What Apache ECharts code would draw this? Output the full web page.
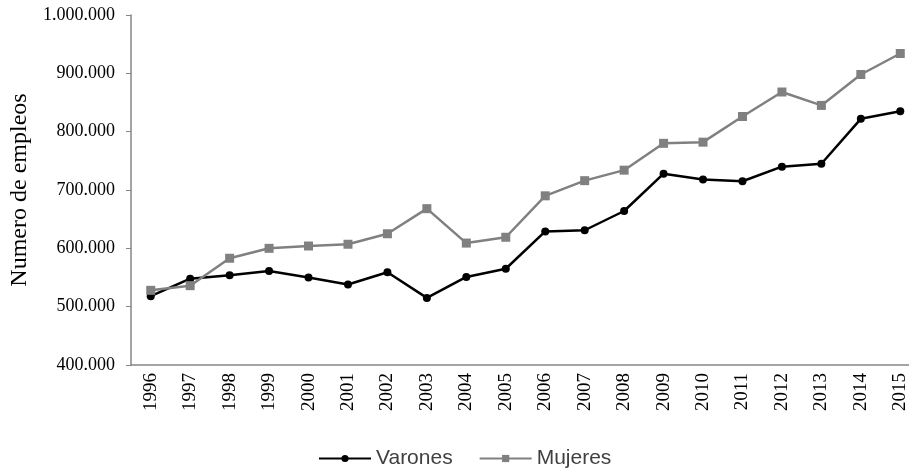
<!DOCTYPE html>
<html>
<head>
<meta charset="utf-8">
<script src="https://cdn.jsdelivr.net/npm/echarts@6/dist/echarts.min.js"></script>
<style>html,body{margin:0;padding:0;background:#fff;overflow:hidden}#c{width:920px;height:470px}</style>
</head>
<body>
<div id="c"></div>
<script>
const years = ['1996','1997','1998','1999','2000','2001','2002','2003','2004','2005','2006','2007','2008','2009','2010','2011','2012','2013','2014','2015'];
const varones = [518000,548000,554000,561000,550000,538000,559000,515000,551000,565000,629000,631000,664000,728000,718000,715000,740000,745000,822000,835000];
const mujeres = [528000,536000,583000,600000,604000,607000,625000,668000,609000,619000,690000,716000,734000,780000,782000,826000,868000,845000,898000,934000];
const yTicks = [400000,500000,600000,700000,800000,900000,1000000];

function fmt(v){return String(v).replace(/\B(?=(\d{3})+(?!\d))/g,'.');}

const chart = echarts.init(document.getElementById('c'), null, {renderer:'canvas'});
chart.setOption({
  animation:false,
  backgroundColor:'#fff',
  grid:{left:131, top:15, right:0, bottom:105, containLabel:false},
  legend:{
    top:443, left:313,
    itemWidth:52, itemHeight:9, itemGap:26,
    textStyle:{fontFamily:'Liberation Sans', fontSize:21, color:'#404040'},
    data:['Varones','Mujeres']
  },
  xAxis:{
    type:'category', data:years, boundaryGap:true,
    axisLine:{lineStyle:{color:'#868686', width:1.5}},
    axisTick:{show:false},
    axisLabel:{rotate:90, margin:8, fontFamily:'Liberation Serif', fontSize:19, color:'#000'}
  },
  yAxis:{
    type:'value', min:yTicks[0], max:yTicks[yTicks.length-1], interval:100000,
    name:'Numero de empleos', nameLocation:'middle', nameGap:97, nameRotate:90,
    nameTextStyle:{fontFamily:'Liberation Serif', fontSize:24, color:'#000'},
    axisLine:{show:true, lineStyle:{color:'#868686', width:1.5}},
    axisTick:{show:true, length:5, lineStyle:{color:'#868686'}},
    splitLine:{show:false},
    axisLabel:{margin:16, fontFamily:'Liberation Serif', fontSize:18, color:'#000', formatter:fmt}
  },
  series:[
    {name:'Varones', type:'line', data:varones, color:'#000',
     symbol:'circle', symbolSize:8, lineStyle:{width:2.5, color:'#000'}, itemStyle:{color:'#000'}},
    {name:'Mujeres', type:'line', data:mujeres, color:'#808080',
     symbol:'rect', symbolSize:9, lineStyle:{width:2.5, color:'#808080'}, itemStyle:{color:'#808080'}}
  ]
});
</script>
</body>
</html>
